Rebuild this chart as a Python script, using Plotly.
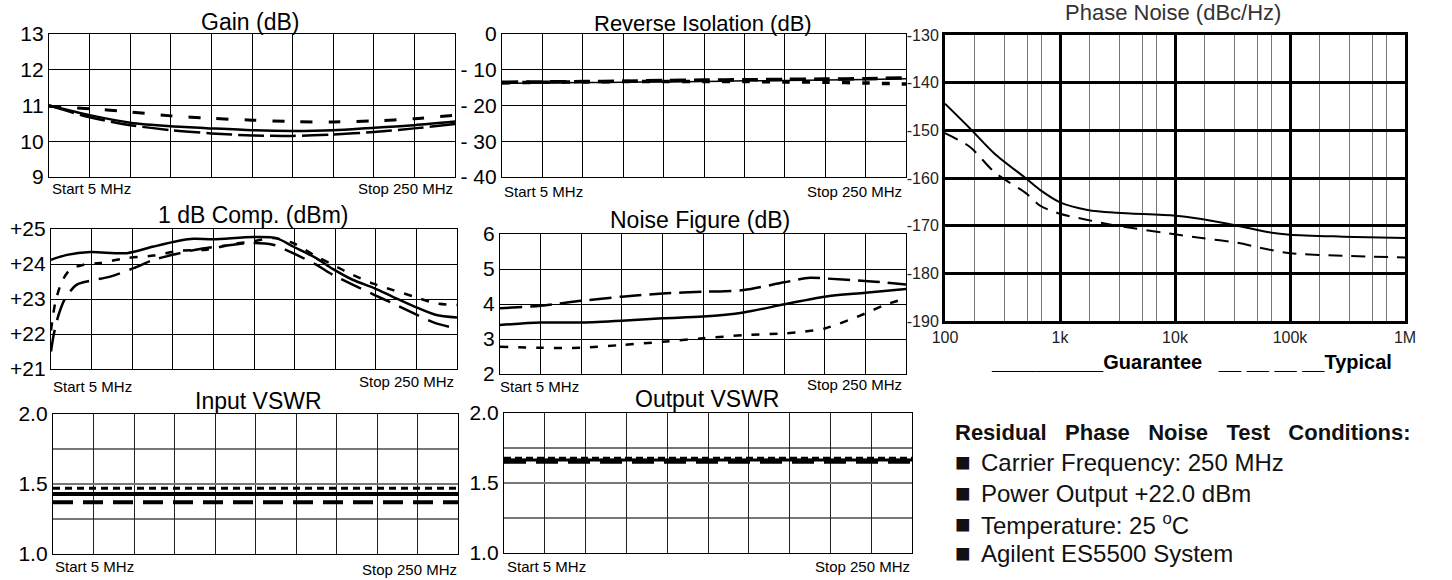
import plotly.graph_objects as go

W, H = 1452, 580
FONT = "Liberation Sans, Arial, sans-serif"

# ---------------- data ----------------
FREQ_11 = [5, 29.5, 54, 78.5, 103, 127.5, 152, 176.5, 201, 225.5, 250]

GAIN_SOLID = [11.0, 10.73, 10.52, 10.42, 10.36, 10.31, 10.29, 10.31, 10.38, 10.45, 10.55]
GAIN_DASH = [11.0, 10.67, 10.45, 10.31, 10.22, 10.16, 10.15, 10.19, 10.26, 10.36, 10.48]
GAIN_DOT = [10.98, 10.91, 10.82, 10.71, 10.64, 10.59, 10.55, 10.54, 10.57, 10.63, 10.73]

ISO_SOLID = [-13.8, -13.7, -13.6, -13.5, -13.4, -13.3, -13.1, -13.0, -12.9, -12.7, -12.5]
ISO_DASH = [-13.5, -13.4, -13.3, -13.2, -13.0, -12.9, -12.8, -12.7, -12.6, -12.5, -12.3]
ISO_DOT = [-13.7, -13.5, -13.4, -13.3, -13.3, -13.3, -13.3, -13.4, -13.5, -13.7, -14.0]

P1_SOLID_F = [5, 14.6, 28.7, 50.8, 67, 83, 91, 103, 127, 141, 151, 165, 175, 187, 200, 211, 224, 237, 250]
P1_SOLID = [24.12, 24.26, 24.34, 24.31, 24.50, 24.67, 24.72, 24.71, 24.77, 24.74, 24.50, 24.17,
            23.86, 23.55, 23.31, 23.07, 22.79, 22.55, 22.47]
P1_DOT_F = [5, 7.6, 11.6, 16.6, 24.7, 34.7, 50.8, 67, 83, 99, 115, 127, 139, 151, 165, 175, 187,
            200, 211, 224, 237, 250]
P1_DOT = [22.1, 22.9, 23.50, 23.84, 23.98, 24.03, 24.17, 24.24, 24.38, 24.41, 24.57, 24.65, 24.74,
          24.60, 24.22, 23.98, 23.69, 23.43, 23.26, 23.07, 22.88, 22.83]
P1_DASH_F = [5, 6.6, 9.6, 13.6, 20.6, 28.7, 40.7, 54.8, 67, 83, 95, 115, 127, 139, 151, 165, 175,
             187, 200, 211, 224, 237, 250]
P1_DASH = [21.50, 21.97, 22.55, 23.02, 23.41, 23.52, 23.64, 23.88, 24.12, 24.31, 24.43, 24.55,
           24.60, 24.55, 24.31, 23.98, 23.69, 23.41, 23.12, 22.88, 22.59, 22.31, 22.16]

NF_DASH_F = [5, 29.5, 54, 78.5, 103, 127.5, 152, 176.5, 192, 201, 225.5, 250]
NF_DASH = [3.88, 3.95, 4.09, 4.21, 4.30, 4.35, 4.40, 4.62, 4.75, 4.73, 4.66, 4.56]
NF_SOLID = [3.40, 3.47, 3.47, 3.52, 3.59, 3.64, 3.76, 3.99, 4.21, 4.32, 4.43]
NF_DOT_F = [5, 29.5, 54, 78.5, 103, 127.5, 152, 176.5, 188.5, 201, 225.5, 237, 250]
NF_DOT = [2.78, 2.75, 2.75, 2.83, 2.92, 3.02, 3.11, 3.16, 3.21, 3.30, 3.73, 3.97, 4.16]

VSWR_F = [5, 250]
IN_VSWR_DOT = [1.47, 1.47]
IN_VSWR_SOLID = [1.428, 1.428]
IN_VSWR_DASH = [1.37, 1.37]
OUT_VSWR_DOT = [1.677, 1.677]
OUT_VSWR_SOLID = [1.665, 1.665]
OUT_VSWR_DASH = [1.655, 1.655]

PN_F = [100, 165, 270, 513, 670, 1000, 1740, 3100, 10000, 17000, 35000, 62000, 100000, 288000, 1000000]
PN_GUAR = [-144.4, -149.6, -154.9, -160.2, -162.5, -165.1, -166.7, -167.3, -167.9, -168.6, -170.0,
           -171.3, -171.9, -172.3, -172.6]
PN_TYP = [-150.6, -153.5, -158.8, -163.3, -165.8, -167.5, -168.8, -170.0, -171.8, -172.6, -173.6,
          -174.9, -175.8, -176.3, -176.7]

PN_MAJOR = [100, 1000, 10000, 100000, 1000000]
PN_MAJOR_TXT = ["100", "1k", "10k", "100k", "1M"]
PN_MINOR_MULT = [1.8, 3.3, 5.2, 6.9]

GAIN_TICKS = [9, 10, 11, 12, 13]
ISO_TICKS = [-40, -30, -20, -10, 0]
ISO_TXT = ["- 40", "- 30", "- 20", "- 10", "0"]
P1_TICKS = [21, 22, 23, 24, 25]
P1_TXT = ["+21", "+22", "+23", "+24", "+25"]
NF_TICKS = [2, 3, 4, 5, 6]
VSWR_TICKS = [1.0, 1.5, 2.0]
VSWR_TXT = ["1.0", "1.5", "2.0"]
VSWR_MINOR = [1.25, 1.75]
PN_YTICKS = [-190, -180, -170, -160, -150, -140, -130]

# ---------------- helpers (page pixel -> paper) ----------------
def px(x):
    return x / W


def py(y):
    return 1 - y / H


def dx(a, b):
    return [px(a), px(b)]


def dy(top, bottom):
    return [py(bottom), py(top)]


fig = go.Figure()


def add(xs, ys, ax, width, dash="solid", shape="spline"):
    fig.add_trace(go.Scatter(
        x=xs, y=ys, mode="lines", xaxis="x" + ax, yaxis="y" + ax,
        line=dict(color="black", width=width, dash=dash, shape=shape, smoothing=0.8),
        showlegend=False, hoverinfo="skip"))


add(FREQ_11, GAIN_DOT, "", 3, "12px,16px")
add(FREQ_11, GAIN_DASH, "", 2.5, "26px,6px")
add(FREQ_11, GAIN_SOLID, "", 2.5)

add(FREQ_11, ISO_DOT, "2", 3.5, "8px,12px")
add(FREQ_11, ISO_DASH, "2", 3.5, "16px,8px")
add(FREQ_11, ISO_SOLID, "2", 1.5)

add(P1_DOT_F, P1_DOT, "3", 2.5, "8px,10px")
add(P1_DASH_F, P1_DASH, "3", 2.5, "22px,10px")
add(P1_SOLID_F, P1_SOLID, "3", 2.5)

add(NF_DOT_F, NF_DOT, "4", 2.5, "8px,10px")
add(NF_DASH_F, NF_DASH, "4", 2.5, "22px,8px")
add(FREQ_11, NF_SOLID, "4", 2.5)

add(VSWR_F, IN_VSWR_DOT, "5", 3, "7px,5px", "linear")
add(VSWR_F, IN_VSWR_SOLID, "5", 4, "solid", "linear")
add(VSWR_F, IN_VSWR_DASH, "5", 4, "20px,10px", "linear")

add(VSWR_F, OUT_VSWR_DOT, "6", 3, "7px,4px", "linear")
add(VSWR_F, OUT_VSWR_SOLID, "6", 3, "solid", "linear")
add(VSWR_F, OUT_VSWR_DASH, "6", 5, "22px,10px", "linear")

add(PN_F, PN_TYP, "7", 2, "14px,9px")
add(PN_F, PN_GUAR, "7", 2)

# ---------------- axes ----------------
def fx(domain, anchor, grid="black", gw=1):
    return dict(domain=domain, anchor=anchor, range=[5, 250], tickmode="linear", tick0=5, dtick=24.5,
                showticklabels=False, showgrid=True, gridcolor=grid, gridwidth=gw,
                showline=True, mirror=True, linecolor="black", linewidth=1.2, automargin=False,
                zeroline=False, ticks="", fixedrange=True)


def fy(domain, anchor, rng, vals, txt, size=21, grid="black", gw=1, minor=None):
    d = dict(domain=domain, anchor=anchor, range=rng, tickmode="array", tickvals=vals, ticktext=txt,
             showgrid=True, gridcolor=grid, gridwidth=gw, showline=True, mirror=True,
             linecolor="black", linewidth=1.2, zeroline=False, ticks="", automargin=False,
             tickfont=dict(family=FONT, size=size, color="black"), fixedrange=True)
    if minor is not None:
        d["minor"] = dict(tickmode="array", tickvals=minor, showgrid=True, gridcolor=grid,
                          gridwidth=gw, ticks="")
    return d


minor_vals = [m * d for d in [100, 1000, 10000, 100000] for m in PN_MINOR_MULT]

layout = dict(
    width=W, height=H, autosize=False,
    margin=dict(l=0, r=0, t=0, b=0, pad=0, autoexpand=False),
    paper_bgcolor="white", plot_bgcolor="white",
    font=dict(family=FONT, color="black"),
    xaxis=fx(dx(49, 455), "y"),
    yaxis=fy(dy(34, 177), "x", [9, 13], GAIN_TICKS, [str(v) for v in GAIN_TICKS]),
    xaxis2=fx(dx(502, 906), "y2"),
    yaxis2=fy(dy(34, 177), "x2", [-40, 0], ISO_TICKS, ISO_TXT),
    xaxis3=fx(dx(51, 457), "y3"),
    yaxis3=fy(dy(229, 369), "x3", [21, 25], P1_TICKS, P1_TXT),
    xaxis4=fx(dx(500, 906), "y4"),
    yaxis4=fy(dy(234, 374), "x4", [2, 6], NF_TICKS, [str(v) for v in NF_TICKS]),
    xaxis5=fx(dx(53, 458), "y5", "#222", 1),
    yaxis5=fy(dy(414, 554), "x5", [1, 2], VSWR_TICKS, VSWR_TXT, 21, "#777", 2, VSWR_MINOR),
    xaxis6=fx(dx(504, 912), "y6", "#222", 1),
    yaxis6=fy(dy(413, 553), "x6", [1, 2], VSWR_TICKS, VSWR_TXT, 21, "#777", 2, VSWR_MINOR),
    xaxis7=dict(domain=dx(945, 1405), anchor="y7", type="log", range=[2, 6],
                tickmode="array", tickvals=PN_MAJOR, ticktext=PN_MAJOR_TXT,
                tickfont=dict(family=FONT, size=16, color="#222"),
                showgrid=True, gridcolor="black", gridwidth=3, automargin=False,
                minor=dict(tickmode="array", tickvals=minor_vals, showgrid=True,
                           gridcolor="#777", gridwidth=1.3, ticks=""),
                showline=True, mirror=True, linecolor="black", linewidth=3,
                zeroline=False, ticks="", fixedrange=True),
    yaxis7=dict(domain=dy(35, 321), anchor="x7", range=[-190, -130], tickmode="array",
                tickvals=PN_YTICKS, ticktext=[str(v) for v in PN_YTICKS],
                tickfont=dict(family=FONT, size=16, color="#222"),
                showgrid=True, gridcolor="black", gridwidth=3, automargin=False,
                showline=True, mirror=True, linecolor="black", linewidth=3,
                zeroline=False, ticks="", fixedrange=True),
)
fig.update_layout(**layout)

# ---------------- text ----------------
anns = []


def ann(text, x, y, size, xanchor="center", color="black", bold=False):
    if bold:
        text = "<b>" + text + "</b>"
    anns.append(dict(text=text, x=px(x), y=py(y), xref="paper", yref="paper", xanchor=xanchor,
                     yanchor="middle", showarrow=False, font=dict(family=FONT, size=size, color=color)))


ann("Gain (dB)", 250, 22, 23)
ann("Reverse Isolation (dB)", 703, 24, 22)
ann("Phase Noise (dBc/Hz)", 1173, 13, 22, color="#333")
ann("1 dB Comp. (dBm)", 253, 215, 23)
ann("Noise Figure (dB)", 700, 220, 23)
ann("Input VSWR", 258, 401, 23)
ann("Output VSWR", 707, 399, 23)

ann("Start 5 MHz", 50, 189, 15, "left")
ann("Stop 250 MHz", 455, 189, 15, "right")
ann("Start 5 MHz", 502, 191, 15, "left")
ann("Stop 250 MHz", 904, 191, 15, "right")
ann("Start 5 MHz", 51, 386, 15, "left")
ann("Stop 250 MHz", 456, 381, 15, "right")
ann("Start 5 MHz", 498, 386, 15, "left")
ann("Stop 250 MHz", 904, 384, 15, "right")
ann("Start 5 MHz", 53, 566, 15, "left")
ann("Stop 250 MHz", 459, 569, 15, "right")
ann("Start 5 MHz", 505, 566, 15, "left")
ann("Stop 250 MHz", 912, 566, 15, "right")

ann("__________Guarantee\u00a0\u00a0\u00a0__ __ __ __Typical", 1191, 362, 20, bold=True)

NB = "\u00a0\u00a0\u00a0"
ann(NB.join(["Residual", "Phase", "Noise", "Test", "Conditions:"]), 953, 432, 22, "left",
    color="#111", bold=True)

ITEMS = ["Carrier Frequency: 250 MHz", "Power Output +22.0 dBm",
         "Temperature: 25 <sup>o</sup>C", "Agilent ES5500 System"]
ITEM_Y = [462, 493, 524, 553]
for t, yy in zip(ITEMS, ITEM_Y):
    ann("\u25a0", 953, yy, 26, "left", color="#111")
    ann(t, 979, yy, 24, "left", color="#111")

fig.update_layout(annotations=anns)
fig.write_html("out.html", config={"displayModeBar": False, "staticPlot": True},
               post_script="document.body.style.margin='0';document.body.style.overflow='hidden';")
